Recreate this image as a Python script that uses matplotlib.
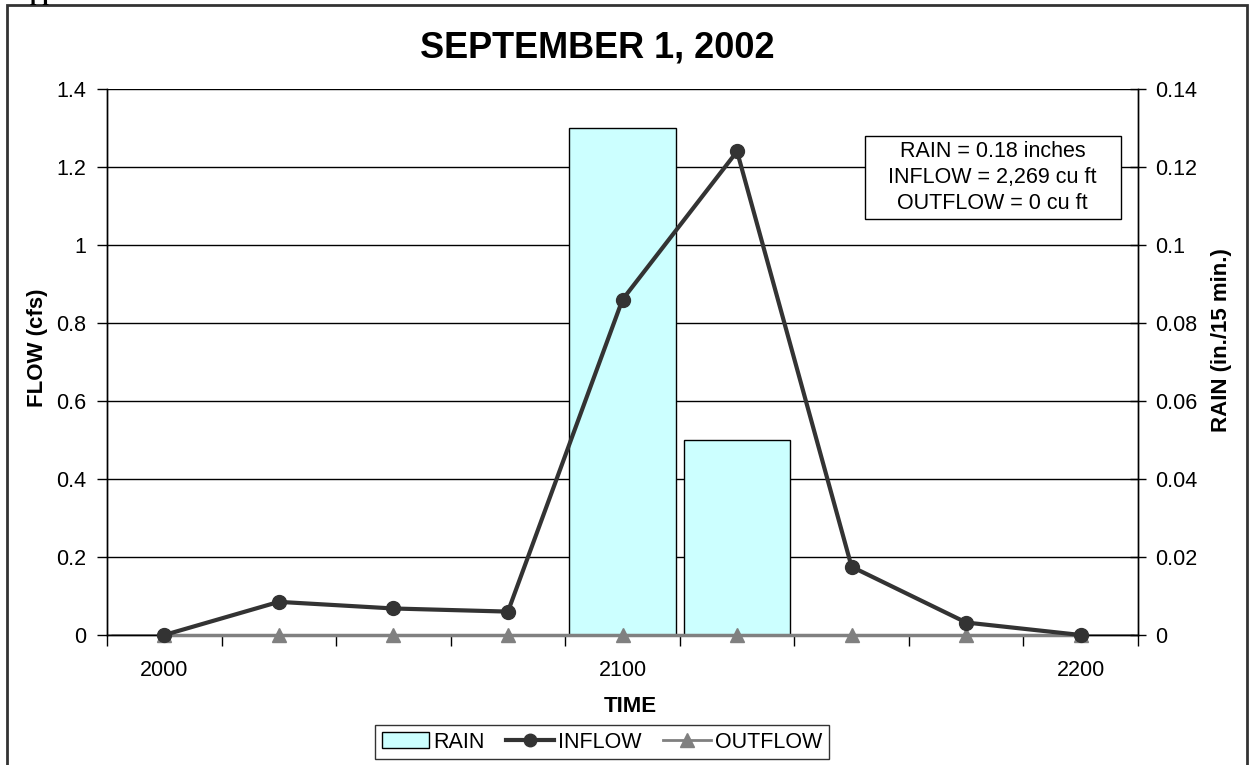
import matplotlib
matplotlib.use("Agg")
import matplotlib.pyplot as plt
from matplotlib.patches import Rectangle

plt.rcParams['font.family'] = ['Liberation Sans', 'DejaVu Sans']

# Datos
tiempos = ['2000', '2015', '2030', '2045', '2100', '2115', '2130', '2145', '2200']
inflow = [0.0, 0.085, 0.068, 0.06, 0.86, 1.24, 0.175, 0.032, 0.0]
outflow = [0, 0, 0, 0, 0, 0, 0, 0, 0]
rain = [0, 0, 0, 0, 0.13, 0.05, 0, 0, 0]
etiquetas_x = {0: '2000', 4: '2100', 8: '2200'}

fig = plt.figure(figsize=(12.5, 7.65), dpi=100)
ax = fig.add_axes([107 / 1250, 130 / 765, 1031 / 1250, 546 / 765])
ax2 = ax.twinx()
ax.set_zorder(ax2.get_zorder() + 1)
ax.patch.set_visible(False)

x = list(range(len(tiempos)))

# Lluvia (barras, eje derecho)
ax2.bar(x, rain, width=0.93, color='#CCFFFF', edgecolor='black', linewidth=1, zorder=2)
ax2.set_ylim(0, 0.14)
ax2.set_yticks([0, 0.02, 0.04, 0.06, 0.08, 0.1, 0.12, 0.14])
ax2.set_yticklabels(['0', '0.02', '0.04', '0.06', '0.08', '0.1', '0.12', '0.14'])
ax2.yaxis.grid(True, color='black', linewidth=1, zorder=0)
ax2.set_axisbelow(True)
ax2.tick_params(axis='y', direction='inout', length=12, width=1, labelsize=15.5, pad=6)

# Caudales (eje izquierdo)
ax.plot(x, outflow, color='#808080', linewidth=2.5, marker='^', markersize=10,
        markerfacecolor='#808080', markeredgecolor='#808080', label='OUTFLOW',
        zorder=3, clip_on=False)
ax.plot(x, inflow, color='#333333', linewidth=3, marker='o', markersize=10,
        markerfacecolor='#333333', markeredgecolor='#333333', label='INFLOW',
        zorder=4, clip_on=False)
ax.set_ylim(0, 1.4)
ax.set_yticks([0, 0.2, 0.4, 0.6, 0.8, 1.0, 1.2, 1.4])
ax.set_yticklabels(['0', '0.2', '0.4', '0.6', '0.8', '1', '1.2', '1.4'])
ax.tick_params(axis='y', direction='out', length=7, width=1, labelsize=15.5, pad=8)

ax.set_xlim(-0.5, len(tiempos) - 0.5)
ax.set_xticks(list(etiquetas_x.keys()))
ax.set_xticklabels(list(etiquetas_x.values()))
ax.set_xticks([i - 0.5 for i in range(len(tiempos) + 1)], minor=True)
ax.tick_params(axis='x', which='major', length=0, labelsize=15.5, pad=18)
ax.tick_params(axis='x', which='minor', direction='out', length=8, width=1)

for a in (ax, ax2):
    a.spines['top'].set_visible(False)
    a.spines['left'].set_linewidth(1)
    a.spines['right'].set_linewidth(1)
    a.spines['bottom'].set_linewidth(1)

# Textos
fig.text(597 / 1250, 1 - 48 / 765, 'SEPTEMBER 1, 2002', ha='center', va='center',
         fontsize=26, fontweight='bold')
fig.text(37 / 1250, (765 - 348) / 765, 'FLOW (cfs)', rotation=90,
         ha='center', va='center', fontsize=16, fontweight='bold')
fig.text(1222 / 1250, (765 - 340) / 765, 'RAIN (in./15 min.)', rotation=90,
         ha='center', va='center', fontsize=16, fontweight='bold')
fig.text(630 / 1250, (765 - 707) / 765, 'TIME', ha='center', va='center',
         fontsize=16, fontweight='bold')

# Cuadro de totales
ax.add_patch(Rectangle((0.735, 0.762), 0.2485, 0.152, transform=ax.transAxes,
                       facecolor='white', edgecolor='black', linewidth=1, zorder=5))
ax.text(0.859, 0.838, 'RAIN = 0.18 inches\nINFLOW = 2,269 cu ft\nOUTFLOW = 0 cu ft',
        transform=ax.transAxes, ha='center', va='center', fontsize=15.5,
        linespacing=1.3, zorder=6)

# Leyenda
h_bar = Rectangle((0, 0), 1, 1, facecolor='#CCFFFF', edgecolor='black', linewidth=1)
h_in, = ax.plot([], [], color='#333333', linewidth=3, marker='o', markersize=9)
h_out, = ax.plot([], [], color='#808080', linewidth=2, marker='^', markersize=10)
leg = fig.legend([h_bar, h_in, h_out], ['RAIN', 'INFLOW', 'OUTFLOW'],
                 loc='center', bbox_to_anchor=(602 / 1250, (765 - 742) / 765), ncol=3,
                 fontsize=15.5, frameon=True, fancybox=False, edgecolor='black',
                 borderpad=0.3, handlelength=2.2, handletextpad=0.2, columnspacing=1.0,
                 borderaxespad=0)
leg.get_frame().set_linewidth(1)

# Marco exterior
fig.patches.append(Rectangle((7 / 1250, -0.05), 1240 / 1250, 1.05 - 5 / 765,
                             transform=fig.transFigure, fill=False,
                             edgecolor='#333333', linewidth=2))
fig.text(15 / 1250, 1.0, 'Appendix', fontfamily='Liberation Serif', fontweight='bold',
         fontsize=16, ha='left', va='baseline')

plt.savefig('out.png', dpi=100)
plt.close()
